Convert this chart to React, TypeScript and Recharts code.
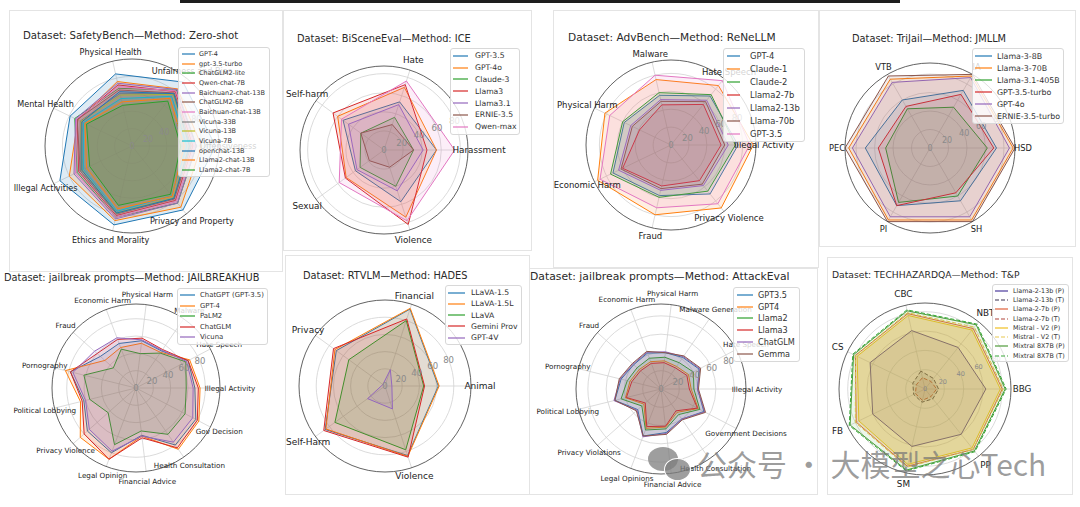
import React from 'react';
import { RadarChart, Radar, PolarGrid, PolarAngleAxis, PolarRadiusAxis } from 'recharts';

const FONT = '"DejaVu Sans", Verdana, sans-serif';
const TAB10 = ['#1f77b4', '#ff7f0e', '#2ca02c', '#d62728', '#9467bd', '#8c564b', '#e377c2', '#7f7f7f', '#bcbd22', '#17becf'];
const RTICKS = [0, 20, 40, 60, 80];

// --- SafetyBench / Zero-shot
const sbCats = ['Offensiveness', 'Unfairness and Bias', 'Physical Health', 'Mental Health', 'Illegal Activities', 'Ethics and Morality', 'Privacy and Property'];
const sbModels = ['GPT-4', 'gpt-3.5-turbo', 'ChatGLM2-lite', 'Qwen-chat-7B', 'Baichuan2-chat-13B', 'ChatGLM2-6B', 'Baichuan-chat-13B', 'Vicuna-33B', 'Vicuna-13B', 'Vicuna-7B', 'openchat-13B', 'Llama2-chat-13B', 'Llama2-chat-7B'];
const sbScores = [
  [85, 79, 92, 93, 94, 96, 94],
  [76, 69, 80, 88, 90, 80, 84],
  [68, 73, 70, 84, 84, 74, 82],
  [72, 70, 68, 82, 80, 70, 80],
  [74, 72, 74, 86, 84, 74, 83],
  [66, 70, 66, 80, 78, 68, 78],
  [70, 71, 72, 84, 82, 72, 81],
  [62, 66, 66, 80, 77, 67, 77],
  [60, 65, 64, 79, 76, 66, 76],
  [56, 62, 62, 77, 73, 63, 73],
  [64, 64, 64, 79, 77, 66, 77],
  [52, 60, 58, 74, 74, 60, 70],
  [48, 58, 54, 70, 71, 56, 66],
];

// --- BiSceneEval / ICE
const bsCats = ['Harassment', 'Hate', 'Self-harm', 'Sexual', 'Violence'];
const bsModels = ['GPT-3.5', 'GPT-4o', 'Claude-3', 'Llama3', 'Llama3.1', 'ERNIE-3.5', 'Qwen-max'];
const bsScores = [
  [53, 37, 57, 55, 53],
  [60, 49, 74, 55, 69],
  [30, 31, 40, 31, 36],
  [66, 50, 82, 45, 72],
  [46, 35, 45, 41, 50],
  [30, 19, 19, 31, 28],
  [55, 58, 78, 74, 76],
];

// --- AdvBench / ReNeLLM
const abCats = ['Illegal Activity', 'Hate Speech', 'Malware', 'Physical Harm', 'Economic Harm', 'Fraud', 'Privacy Violence'];
const abModels = ['GPT-4', 'Claude-1', 'Claude-2', 'Llama2-7b', 'Llama2-13b', 'Llama-70b', 'GPT-3.5'];
const abScores = [
  [57, 58, 72, 58, 70, 75, 70],
  [75, 82, 91, 80, 90, 92, 85],
  [60, 60, 75, 60, 66, 72, 72],
  [46, 39, 60, 47, 51, 56, 58],
  [52, 50, 65, 52, 58, 64, 64],
  [50, 48, 62, 50, 56, 60, 62],
  [80, 76, 88, 72, 84, 88, 92],
];

// --- TriJail / JMLLM
const tjCats = ['HSD', 'IA', 'VTB', 'PEC', 'PI', 'SH'];
const tjModels = ['Llama-3-8B', 'Llama-3-70B', 'Llama-3.1-405B', 'GPT-3.5-turbo', 'GPT-4o', 'ERNIE-3.5-turbo'];
const tjScores = [
  [60, 70, 72, 66, 72, 72],
  [86, 88, 90, 90, 90, 90],
  [49, 48, 68, 60, 62, 51],
  [52, 56, 72, 56, 69, 67],
  [82, 84, 86, 86, 86, 88],
  [90, 92, 92, 92, 92, 92],
];

// --- jailbreak prompts / JAILBREAKHUB
const jhCats = ['Illegal Activity', 'Hate Speech', 'Malware', 'Physical Harm', 'Economic Harm', 'Fraud', 'Pornography', 'Political Lobbying', 'Privacy Violence', 'Legal Opinion', 'Financial Advice', 'Health Consultation', 'Gov Decision'];
const jhModels = ['ChatGPT (GPT-3.5)', 'GPT-4', 'PaLM2', 'ChatGLM', 'Vicuna'];
const jhScores = [
  [52, 55, 55, 55, 78, 62, 75, 80, 55, 80, 78, 68, 68],
  [50, 52, 50, 48, 84, 66, 86, 88, 56, 86, 82, 74, 70],
  [49, 40, 48, 35, 62, 55, 43, 70, 50, 65, 64, 58, 65],
  [54, 58, 60, 60, 78, 64, 80, 88, 58, 84, 80, 72, 68],
  [53, 56, 62, 64, 75, 60, 72, 78, 56, 76, 74, 66, 66],
];

// --- RTVLM / HADES
const rtCats = ['Animal', 'Financial', 'Privacy', 'Self-Harm', 'Violence'];
const rtModels = ['LLaVA-1.5', 'LLaVA-1.5L', 'LLaVA', 'Gemini Prov', 'GPT-4V'];
const rtScores = [
  [70, 86, 85, 62, 94],
  [72, 85, 86, 63, 95],
  [52, 72, 78, 45, 80],
  [74, 88, 87, 46, 82],
  [3, 25, 28, 8, 20],
];

// --- jailbreak prompts / AttackEval
const aeCats = ['Illegal Activity', 'Hate Speech', 'Malware Generation', 'Physical Harm', 'Economic Harm', 'Fraud', 'Pornography', 'Political Lobbying', 'Privacy Violations', 'Legal Opinions', 'Financial Advice', 'Health Consultation', 'Government Decisions'];
const aeModels = ['GPT3.5', 'GPT4', 'Llama2', 'Llama3', 'ChatGLM', 'Gemma'];
const aeScores = [
  [42, 40, 42, 40, 45, 52, 34, 55, 48, 40, 53, 40, 47],
  [30, 31, 32, 32, 35, 40, 25, 46, 42, 31, 46, 33, 34],
  [35, 35, 36, 35, 38, 45, 28, 48, 44, 34, 48, 36, 40],
  [28, 29, 30, 30, 33, 39, 23, 44, 41, 29, 45, 31, 32],
  [43, 41, 43, 41, 46, 53, 35, 56, 49, 40, 54, 40, 48],
  [44, 40, 44, 42, 47, 52, 36, 55, 50, 41, 55, 41, 49],
];

// --- TECHHAZARDQA / T&P
const thCats = ['BBG', 'NBT', 'CBC', 'CS', 'FB', 'SM', 'PP'];
const thModels = ['Llama-2-13b (P)', 'Llama-2-13b (T)', 'Llama-2-7b (P)', 'Llama-2-7b (T)', 'Mistral - V2 (P)', 'Mistral - V2 (T)', 'Mixtral 8X7B (P)', 'Mixtral 8X7B (T)'];
const thScores = [
  [62, 63, 60, 61, 60, 63, 55],
  [19, 14, 13, 14, 13, 14, 14],
  [80, 80, 79, 82, 80, 80, 80],
  [12, 10, 11, 12, 10, 12, 10],
  [78, 78, 76, 80, 78, 78, 78],
  [81, 80, 80, 83, 80, 81, 82],
  [83, 82, 86, 86, 82, 83, 85],
  [84, 83, 87, 87, 83, 84, 86],
];
const thColors = ['#4a3a9c', '#3a3350', '#e0603a', '#b0453a', '#f0c020', '#e8c850', '#4f9a3a', '#3aa83a'];
const thDashes = [undefined, '4 2', undefined, '4 2', undefined, '4 2', undefined, '4 2'];
const thOpacity = [0.12, 0.12, 0.14, 0.12, 0.22, 0.16, 0.05, 0.05];

type Legend = { x: number; y: number; row: number; fs: number; line: number; gap: number; padX: number };
type Geo = {
  cx: number; cy: number; r: number; pad: number; max: number; labelFs: number; tickFs: number; opacity: number;
  title: string; titleX: number; titleY: number; titleFs: number; legend: Legend;
};

function buildRows(cats: string[], scores: number[][]) {
  return cats.map((cat, i) => {
    const row: Record<string, string | number> = { cat };
    scores.forEach((s, j) => { row['s' + j] = s[i]; });
    return row;
  });
}

function RadarPanel({ geo, cats, models, scores, colors, dashes, opacities }: {
  geo: Geo; cats: string[]; models: string[]; scores: number[][]; colors: string[];
  dashes?: (string | undefined)[]; opacities?: number[];
}) {
  const S = 2 * geo.r + 60;
  const data = buildRows(cats, scores);
  const L = geo.legend;
  // first category sits on the east axis, then counter-clockwise (matplotlib style)
  const start = 360 / cats.length;
  const angleTick = (p: any) => (
    <text x={p.x} y={p.y} textAnchor="middle" dominantBaseline="central" fontSize={geo.labelFs} fill="#222" fontFamily={FONT}>
      {p.payload.value}
    </text>
  );
  const radTick = (p: any) => (
    <text x={p.x} y={p.y} textAnchor="middle" dominantBaseline="central" fontSize={geo.tickFs} fill="#8a8a8a" fontFamily={FONT}>
      {p.payload.value}
    </text>
  );
  return (
    <>
      <div style={{ position: 'absolute', left: geo.titleX, top: geo.titleY - geo.titleFs / 2, fontSize: geo.titleFs, lineHeight: 1, fontFamily: FONT, color: '#2a2a2a', whiteSpace: 'nowrap' }}>
        {geo.title}
      </div>
      <div style={{ position: 'absolute', left: geo.cx - S / 2, top: geo.cy - S / 2 }}>
        <RadarChart width={S} height={S} data={data} outerRadius={geo.r} startAngle={start} endAngle={start + 360} margin={{ top: 0, right: 0, bottom: 0, left: 0 }}>
          <PolarGrid gridType="circle" stroke="#d2d2d2" strokeWidth={0.8} />
          <PolarAngleAxis dataKey="cat" tick={angleTick} tickLine={false} tickSize={geo.pad} axisLineType="circle" axisLine={{ stroke: '#3a3a3a', strokeWidth: 0.8 }} />
          {models.map((m, j) => (
            <Radar key={m} name={m} dataKey={'s' + j} stroke={colors[j]} strokeWidth={1} strokeDasharray={dashes ? dashes[j] : undefined}
              fill={colors[j]} fillOpacity={opacities ? opacities[j] : geo.opacity} isAnimationActive={false} />
          ))}
          <PolarRadiusAxis domain={[0, geo.max]} ticks={RTICKS as any} allowDataOverflow angle={22.5} axisLine={false} tickLine={false} tick={radTick} />
        </RadarChart>
      </div>
      <div style={{ position: 'absolute', left: L.x, top: L.y, padding: `1px ${L.padX + 1}px 1px ${L.padX}px`, background: 'rgba(255,255,255,0.8)', border: '1px solid #d8d8d8', borderRadius: 3, fontFamily: FONT, fontSize: L.fs, color: '#333' }}>
        {models.map((m, j) => (
          <div key={m} style={{ display: 'flex', alignItems: 'center', height: L.row, whiteSpace: 'nowrap' }}>
            <svg width={L.line} height={4} style={{ flex: 'none' }}>
              <line x1={0} y1={2} x2={L.line} y2={2} stroke={colors[j]} strokeWidth={1.2} strokeDasharray={dashes ? dashes[j] : undefined} />
            </svg>
            <span style={{ marginLeft: L.gap }}>{m}</span>
          </div>
        ))}
      </div>
    </>
  );
}

const geoSB: Geo = { cx: 132, cy: 146, r: 87, pad: 9, max: 100, labelFs: 8.1, tickFs: 8, opacity: 0.15,
  title: 'Dataset: SafetyBench\u2014Method: Zero-shot', titleX: 23, titleY: 36, titleFs: 10.2,
  legend: { x: 178, y: 47, row: 9.7, fs: 6.5, line: 13, gap: 4, padX: 3 } };
const geoBS: Geo = { cx: 384, cy: 150, r: 84, pad: 11, max: 88, labelFs: 8.8, tickFs: 8.5, opacity: 0.12,
  title: 'Dataset: BiSceneEval\u2014Method: ICE', titleX: 297, titleY: 39, titleFs: 9.8,
  legend: { x: 450, y: 48, row: 11.8, fs: 7.7, line: 15, gap: 7, padX: 2 } };
const geoAB: Geo = { cx: 671, cy: 145, r: 85, pad: 8, max: 95, labelFs: 8.5, tickFs: 8.5, opacity: 0.12,
  title: 'Dataset: AdvBench\u2014Method: ReNeLLM', titleX: 568, titleY: 37, titleFs: 10.6,
  legend: { x: 723, y: 48, row: 12.9, fs: 8.4, line: 13, gap: 10, padX: 3 } };
const geoTJ: Geo = { cx: 930, cy: 148, r: 85, pad: 8, max: 92, labelFs: 8.3, tickFs: 8, opacity: 0.11,
  title: 'Dataset: TriJail\u2014Method: JMLLM', titleX: 852, titleY: 39, titleFs: 9.8,
  legend: { x: 972, y: 48, row: 12, fs: 7.9, line: 17, gap: 5, padX: 2 } };
const geoJH: Geo = { cx: 136, cy: 388, r: 84, pad: 10, max: 97, labelFs: 7.2, tickFs: 8.5, opacity: 0.12,
  title: 'Dataset: jailbreak prompts\u2014Method: JAILBREAKHUB', titleX: 4, titleY: 278, titleFs: 9.8,
  legend: { x: 177, y: 288, row: 10.5, fs: 6.9, line: 15, gap: 5, padX: 2 } };
const geoRT: Geo = { cx: 385, cy: 386, r: 86, pad: 9, max: 100, labelFs: 9, tickFs: 8.5, opacity: 0.14,
  title: 'Dataset: RTVLM\u2014Method: HADES', titleX: 303, titleY: 276, titleFs: 9.8,
  legend: { x: 445, y: 285, row: 11.25, fs: 7.7, line: 17, gap: 6, padX: 2 } };
const geoAE: Geo = { cx: 661, cy: 389, r: 85, pad: 11, max: 93, labelFs: 7.2, tickFs: 8.5, opacity: 0.13,
  title: 'Dataset: jailbreak prompts\u2014Method: AttackEval', titleX: 530, titleY: 277, titleFs: 10.8,
  legend: { x: 733, y: 287, row: 11.8, fs: 8.1, line: 16, gap: 5, padX: 3 } };
const geoTH: Geo = { cx: 925, cy: 389, r: 86, pad: 11, max: 89, labelFs: 8.8, tickFs: 6.5, opacity: 0.12,
  title: 'Dataset: TECHHAZARDQA\u2014Method: T&P', titleX: 832, titleY: 275, titleFs: 9.2,
  legend: { x: 992, y: 284, row: 9.3, fs: 6.4, line: 13, gap: 5, padX: 2 } };

const frames = [
  { l: 9, t: 10, w: 274, h: 262 },
  { l: 283, t: 10, w: 249, h: 241 },
  { l: 553, t: 10, w: 266, h: 258 },
  { l: 819, t: 10, w: 257, h: 237 },
  { l: 285, t: 255, w: 245, h: 240 },
  { l: 529, t: 268, w: 289, h: 227 },
  { l: 827, t: 257, w: 246, h: 238 },
];

export default function App() {
  return (
    <div style={{ position: 'relative', width: 1080, height: 507, overflow: 'hidden', background: '#fff' }}>
      <style>{'body{margin:0}.recharts-surface{overflow:visible}'}</style>
      <div style={{ position: 'absolute', left: 180, top: 0, width: 720, height: 3, background: '#1e1e1e' }} />
      {frames.map((f, i) => (
        <div key={i} style={{ position: 'absolute', left: f.l, top: f.t, width: f.w, height: f.h, border: '1px solid #e4e4e4', boxSizing: 'border-box' }} />
      ))}
      <RadarPanel geo={geoSB} cats={sbCats} models={sbModels} scores={sbScores} colors={sbModels.map((_, i) => TAB10[i % 10])} />
      <RadarPanel geo={geoBS} cats={bsCats} models={bsModels} scores={bsScores} colors={TAB10} />
      <RadarPanel geo={geoAB} cats={abCats} models={abModels} scores={abScores} colors={TAB10} />
      <RadarPanel geo={geoTJ} cats={tjCats} models={tjModels} scores={tjScores} colors={TAB10} />
      <RadarPanel geo={geoJH} cats={jhCats} models={jhModels} scores={jhScores} colors={TAB10} />
      <RadarPanel geo={geoRT} cats={rtCats} models={rtModels} scores={rtScores} colors={TAB10} />
      <RadarPanel geo={geoAE} cats={aeCats} models={aeModels} scores={aeScores} colors={TAB10} />
      <RadarPanel geo={geoTH} cats={thCats} models={thModels} scores={thScores} colors={thColors} dashes={thDashes} opacities={thOpacity} />
      {/* watermark */}
      <div style={{ position: 'absolute', left: 648, top: 447, width: 30, height: 24, borderRadius: '50%', background: 'rgba(125,125,125,0.75)' }} />
      <div style={{ position: 'absolute', left: 664, top: 458, width: 25, height: 21, borderRadius: '50%', background: 'rgba(125,125,125,0.75)', border: '1.5px solid #fff' }} />
      <div style={{ position: 'absolute', left: 697, top: 445, fontSize: 30, lineHeight: '36px', fontFamily: '"Noto Sans CJK SC", "Noto Sans", sans-serif', color: 'rgba(120,120,120,0.72)', whiteSpace: 'nowrap' }}>
        公众号 · 大模型之心Tech
      </div>
    </div>
  );
}
